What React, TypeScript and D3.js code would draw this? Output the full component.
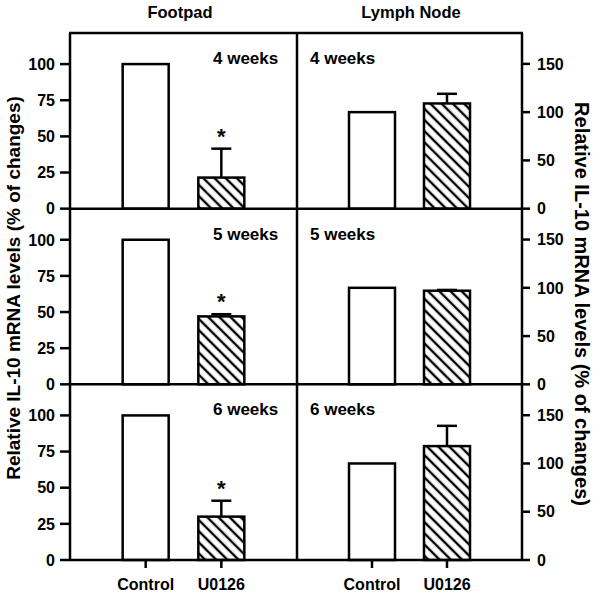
import React from "react";
import * as d3 from "d3";

const weeks = ["4 weeks", "5 weeks", "6 weeks"];
const categories = ["Control", "U0126"];
const footpadControl = [100, 100, 100];
const footpadU0126 = [21.5, 47, 30];
const footpadU0126Err = [20, 1.5, 11];
const footpadSignificant = [true, true, true];
const lymphControl = [100, 100, 100];
const lymphU0126 = [109, 97, 118];
const lymphU0126Err = [10, 0.8, 21];
const footpadTicks = [0, 25, 50, 75, 100];
const lymphTicks = [0, 50, 100, 150];
const columnTitles = ["Footpad", "Lymph Node"];
const yTitle = "Relative IL-10 mRNA levels (% of changes)";

const W = 600;
const H = 594;
const X0 = 70;
const XM = 297;
const X1 = 522;
const Y0 = 33;
const Y1 = 560;
const PH = (Y1 - Y0) / 3;
const BAR_W = 46;
const CAP_W = 20;
const FONT = "'Liberation Sans', Arial, Helvetica, sans-serif";
const SW = 2.5;

export default function App() {
  const xLeft = d3.scalePoint<string>().domain(categories).range([X0, XM]).padding(1);
  const xRight = d3.scalePoint<string>().domain(categories).range([XM, X1]).padding(1);

  const panels = weeks.map((wk, i) => {
    const top = Y0 + i * PH;
    const bottom = top + PH;
    const yL = d3.scaleLinear().domain([0, 121.5]).range([bottom, top]);
    const yR = d3.scaleLinear().domain([0, 182]).range([bottom, top]);
    return { wk, i, top, bottom, yL, yR };
  });

  const bar = (
    x: number,
    y: d3.ScaleLinear<number, number>,
    v: number,
    hatched: boolean,
    key: string
  ) => (
    <rect
      key={key}
      x={x - BAR_W / 2}
      y={y(v)}
      width={BAR_W}
      height={y(0) - y(v)}
      fill={hatched ? "url(#hatch)" : "#fff"}
      stroke="#000"
      strokeWidth={SW}
    />
  );

  const errBar = (
    x: number,
    y: d3.ScaleLinear<number, number>,
    v: number,
    e: number,
    key: string
  ) => (
    <g key={key} stroke="#000" strokeWidth={SW}>
      <line x1={x} x2={x} y1={y(v)} y2={y(v + e)} />
      <line x1={x - CAP_W / 2} x2={x + CAP_W / 2} y1={y(v + e)} y2={y(v + e)} />
    </g>
  );

  return (
    <div style={{ position: "absolute", left: 0, top: 0 }}>
      <svg width={W} height={H} style={{ display: "block", background: "#fff" }} fontFamily={FONT}>
        <defs>
          <pattern
            id="hatch"
            patternUnits="userSpaceOnUse"
            width={7.9}
            height={7.9}
            patternTransform="rotate(-45)"
          >
            <rect width={7.9} height={7.9} fill="#fff" />
            <line x1={2} x2={2} y1={0} y2={7.9} stroke="#000" strokeWidth={2.4} />
          </pattern>
        </defs>

        <text x={180} y={18} textAnchor="middle" fontSize={16.5} fontWeight="bold">
          {columnTitles[0]}
        </text>
        <text x={411} y={18} textAnchor="middle" fontSize={16.5} fontWeight="bold">
          {columnTitles[1]}
        </text>

        {panels.map((p) => (
          <g key={p.wk}>
            {bar(xLeft("Control")!, p.yL, footpadControl[p.i], false, "fc")}
            {bar(xLeft("U0126")!, p.yL, footpadU0126[p.i], true, "fu")}
            {errBar(xLeft("U0126")!, p.yL, footpadU0126[p.i], footpadU0126Err[p.i], "fe")}
            {footpadSignificant[p.i] && (
              <text
                x={xLeft("U0126")!}
                y={p.yL(footpadU0126[p.i] + footpadU0126Err[p.i]) - 5}
                textAnchor="middle"
                fontSize={22}
                fontWeight="bold"
              >
                *
              </text>
            )}
            {bar(xRight("Control")!, p.yR, lymphControl[p.i], false, "lc")}
            {bar(xRight("U0126")!, p.yR, lymphU0126[p.i], true, "lu")}
            {errBar(xRight("U0126")!, p.yR, lymphU0126[p.i], lymphU0126Err[p.i], "le")}

            <text x={213} y={p.top + 31} fontSize={17} fontWeight="bold">
              {p.wk}
            </text>
            <text x={310} y={p.top + 31} fontSize={17} fontWeight="bold">
              {p.wk}
            </text>

            {footpadTicks.map((t) => (
              <g key={"l" + t}>
                <line x1={X0 - 10} x2={X0} y1={p.yL(t)} y2={p.yL(t)} stroke="#000" strokeWidth={SW} />
                <text
                  x={X0 - 15}
                  y={p.yL(t)}
                  dy="0.36em"
                  textAnchor="end"
                  fontSize={16}
                  fontWeight="bold"
                >
                  {t}
                </text>
              </g>
            ))}
            {lymphTicks.map((t) => (
              <g key={"r" + t}>
                <line x1={X1} x2={X1 + 8} y1={p.yR(t)} y2={p.yR(t)} stroke="#000" strokeWidth={SW} />
                <text x={X1 + 15} y={p.yR(t)} dy="0.36em" textAnchor="start" fontSize={16} fontWeight="bold">
                  {t}
                </text>
              </g>
            ))}
            <line x1={X0 - 1} x2={X1 + 1} y1={p.bottom} y2={p.bottom} stroke="#000" strokeWidth={SW} />
          </g>
        ))}

        <line x1={X0 - 1} x2={X1 + 1} y1={Y0} y2={Y0} stroke="#000" strokeWidth={SW} />
        <line x1={X0} x2={X0} y1={Y0} y2={Y1} stroke="#000" strokeWidth={SW} />
        <line x1={XM} x2={XM} y1={Y0} y2={Y1} stroke="#000" strokeWidth={SW} />
        <line x1={X1} x2={X1} y1={Y0} y2={Y1} stroke="#000" strokeWidth={SW} />

        {[xLeft, xRight].map((xs, k) =>
          categories.map((c) => (
            <g key={k + c}>
              <line x1={xs(c)!} x2={xs(c)!} y1={Y1} y2={Y1 + 8} stroke="#000" strokeWidth={SW} />
              <text x={xs(c)!} y={590} textAnchor="middle" fontSize={16} fontWeight="bold">
                {c}
              </text>
            </g>
          ))
        )}

        <text
          transform={`translate(20, 288) rotate(-90)`}
          textAnchor="middle"
          fontSize={19}
          fontWeight="bold"
        >
          {yTitle}
        </text>
        <text
          transform={`translate(575, 304) rotate(90)`}
          textAnchor="middle"
          fontSize={20}
          fontWeight="bold"
        >
          {yTitle}
        </text>
      </svg>
    </div>
  );
}
